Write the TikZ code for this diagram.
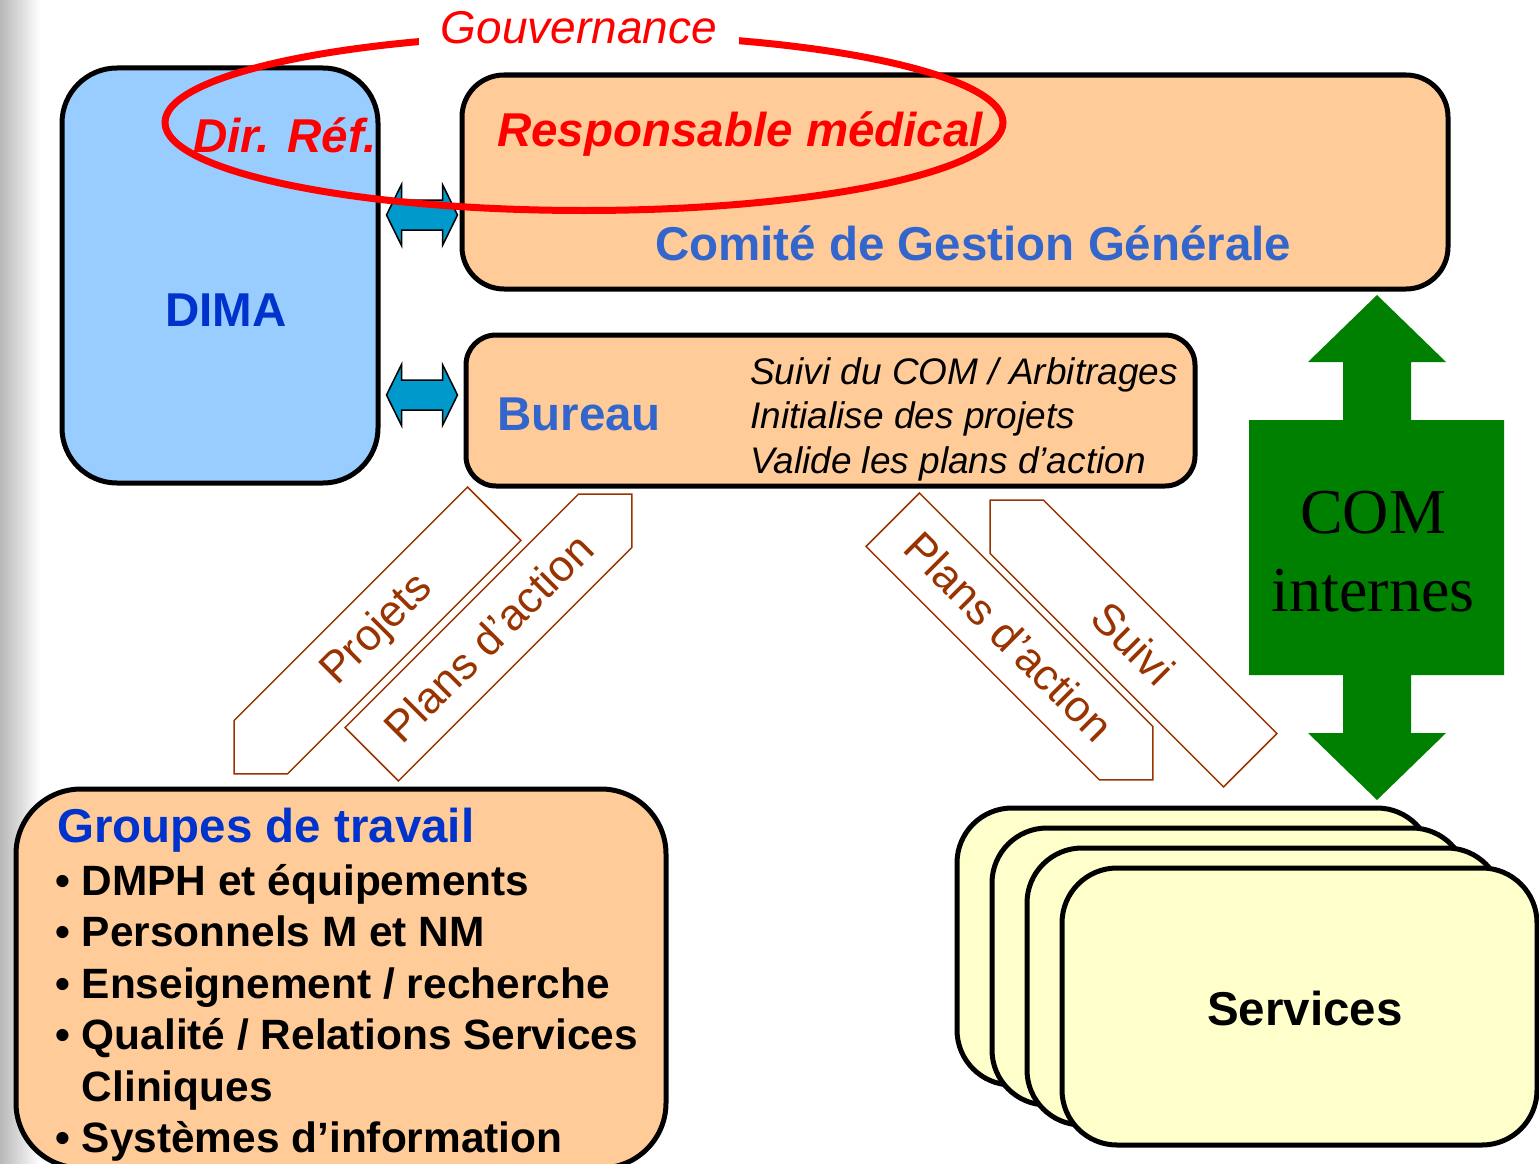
\documentclass[tikz,border=0pt]{standalone}
\usepackage{fontspec}
\setmainfont{Liberation Sans}
\newfontfamily\timesfont{Liberation Serif}
\usetikzlibrary{arrows.meta,positioning,shapes.symbols,calc}
\definecolor{peach}{HTML}{FFCC99}
\definecolor{skyb}{HTML}{99CCFF}
\definecolor{deepb}{HTML}{0033CC}
\definecolor{midb}{HTML}{3366CC}
\definecolor{arrb}{HTML}{0099CC}
\definecolor{comg}{HTML}{008000}
\definecolor{paley}{HTML}{FFFFCC}
\definecolor{brn}{HTML}{993300}
\newcommand\fsz[1]{\fontsize{#1}{#1}\selectfont}

\begin{document}
\begin{tikzpicture}[x=1pt, y=-1pt,
  rbox/.style={draw, line width=5pt, inner sep=0, rounded corners=#1}, rbox/.default=40,
  big/.style={font=\bfseries\fsz{47.5}, inner sep=0},
  dbl/.style={draw, fill=arrb, line width=1.5pt, line join=miter},
  sig/.style={signal, draw=brn, fill=white, line width=1.5pt, text=brn, font=\fsz{44},
    minimum width=368, minimum height=75.5, inner sep=0}]
\clip (0,0) rectangle (1539,1164);
\shade[left color=black!28, right color=white] (0,0) rectangle (40,1164);

\node[rbox=55, fill=skyb, minimum width=316, minimum height=415] (dima) at (220,275.5) {};
\node[rbox=42, fill=peach, minimum width=986, minimum height=214] (cgg) at (955,182) {};
\node[rbox=30, fill=peach, minimum width=729, minimum height=151] (bur) at (830.5,410.5) {};
\node[rbox=65, fill=peach, minimum width=650, minimum height=379] (grp) at (341,978.5) {};
\foreach \i in {1,...,4} \node[rbox=55, fill=paley, minimum width=475, minimum height=277] (srv\i) at (1194.5+35*\i-35,946.5+20*\i-20) {};
\node[big, anchor=base] (srvt) at (1305,1025) {Services};

\foreach \yy in {215,395} \draw[dbl] ($(dima.east |- 0,\yy)+(6,0)$) -- ++(15,-30.5) -- ++(0,15.5) -- ++(41,0) -- ++(0,-15.5) -- ++(15,30.5) -- ++(-15,30.5) -- ++(0,-15.5) -- ++(-41,0) -- ++(0,15.5) -- cycle;

\coordinate (gtip) at ($(cgg.south -| 1377,0)+(0,3.5)$);
\fill[comg] (gtip) -- ++(69,67) -- ++(-35,0) -- ++(0,58) -- ++(93,0) -- ++(0,255) -- ++(-93,0) -- ++(0,58) -- ++(35,0) -- ++(-69,67) -- ++(-69,-67) -- ++(35,0) -- ++(0,-58) -- ++(-94,0) -- ++(0,-255) -- ++(94,0) -- ++(0,-58) -- ++(-35,0) -- cycle;
\node[align=center, font=\timesfont\fontsize{64}{78}\selectfont, inner sep=0] (com) at (1373,552) {COM\\internes};

\node[sig, signal to=west, rotate=45] (proj) at (377.5,630.5) {Projets};
\node[sig, signal to=east, rotate=45] (pla1) at (488.5,637.5) {Plans d'action};
\node[sig, signal to=east, rotate=-45] (pla2) at (1009.5,636.5) {Plans d'action};
\node[sig, signal to=west, rotate=-45] (suiv) at (1133.5,643.5) {Suivi};

\node[big, font=\bfseries\itshape\fsz{47.5}, text=red, anchor=base west] (dirref) at (193,152) {Dir. Réf.};
\node[big, font=\bfseries\itshape\fsz{47.5}, text=red, anchor=base west] (resp) at (497,146) {Responsable médical};
\node[big, text=midb, anchor=base west] (cggt) at (655,260) {Comité de Gestion Générale};
\node[big, text=deepb, anchor=base west] (dimat) at (165,326) {DIMA};
\node[big, text=midb, anchor=base west] (burt) at (497,430) {Bureau};
\foreach \yy/\t [count=\k] in {384/{Suivi du COM / Arbitrages}, 428.5/{Initialise des projets}, 473/{Valide les plans d'action}}
  \node[font=\itshape\fsz{37}, anchor=base west, inner sep=0] (bl\k) at (750,\yy) {\t};

\node[big, text=deepb, anchor=base west] (grpt) at (57,842) {Groupes de travail};
\foreach \yy/\t [count=\k] in {895/{• DMPH et équipements}, 946.5/{• Personnels M et NM}, 998/{• Enseignement / recherche}, 1049.5/{• Qualité / Relations Services}, 1101/{\phantom{• }Cliniques}, 1152.5/{• Systèmes d'information}}
  \node[font=\bfseries\fsz{42.4}, anchor=base west, inner sep=0] (gl\k) at (55,\yy) {\t};

\draw[red, line width=7pt] (584,122.5) ellipse [x radius=419, y radius=88];
\node[fill=white, text=red, font=\itshape\fsz{46}, inner xsep=22, inner ysep=10, anchor=base] (gouv) at (579,44) {Gouvernance};
\end{tikzpicture}
\end{document}
